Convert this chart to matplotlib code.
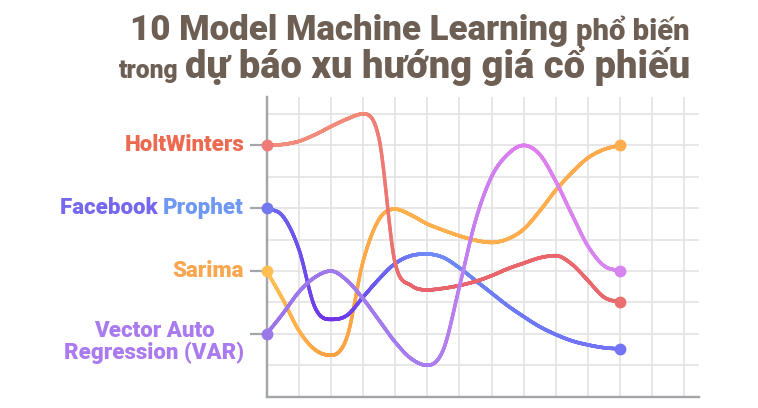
import numpy as np
import matplotlib
matplotlib.use("Agg")
import matplotlib.pyplot as plt
from matplotlib.collections import LineCollection
from matplotlib.colors import to_rgb

# ---------------- data ----------------
categories = ["Vector Auto\nRegression (VAR)", "Sarima", "Facebook Prophet", "HoltWinters"]
category_levels = [2, 4, 6, 8]

x_knots = [0, 0.5, 1, 1.5, 2, 2.5, 3, 3.5, 4, 4.5, 5, 5.5, 6, 6.5, 7, 7.5, 8, 8.5, 9, 9.5, 10, 10.5, 11]
holtwinters = [8.0, 8.03, 8.13, 8.34, 8.6, 8.84, 9.0, 8.2, 4.25, 3.54, 3.4, 3.45, 3.54, 3.67, 3.85, 4.07, 4.25, 4.42, 4.49, 4.22, 3.7, 3.17, 3.0]
prophet = [6.0, 5.75, 4.7, 2.85, 2.46, 2.59, 3.17, 3.75, 4.24, 4.49, 4.54, 4.43, 4.1, 3.7, 3.3, 2.9, 2.55, 2.23, 1.98, 1.78, 1.65, 1.56, 1.52]
sarima = [4.0, 3.1, 2.11, 1.5, 1.32, 1.9, 4.3, 5.65, 5.97, 5.78, 5.5, 5.3, 5.12, 4.98, 4.91, 5.02, 5.33, 5.91, 6.57, 7.13, 7.6, 7.87, 8.0]
var = [2.0, 2.64, 3.33, 3.8, 4.0, 3.7, 3.12, 2.43, 1.74, 1.21, 1.0, 1.5, 3.5, 5.6, 7.0, 7.71, 8.0, 7.71, 6.86, 5.81, 4.8, 4.17, 4.0]

title_line1 = ["10 Model Machine Learning", "phổ biến"]
title_line2 = ["trong", "dự báo xu hướng giá cổ phiếu"]

# ---------------- helpers ----------------
def smooth_monotone(x, y, xs):
    """Cubic Hermite with centred-difference tangents, limited (Fritsch-Carlson)."""
    x = np.asarray(x, float); y = np.asarray(y, float)
    h = np.diff(x); d = np.diff(y) / h
    n = len(x)
    m = np.zeros(n)
    m[0] = d[0]; m[-1] = d[-1]
    for i in range(1, n - 1):
        if d[i - 1] * d[i] <= 0:
            m[i] = 0.0
        else:
            m[i] = (y[i + 1] - y[i - 1]) / (x[i + 1] - x[i - 1])
    for i in range(n - 1):
        if d[i] == 0:
            m[i] = m[i + 1] = 0.0
            continue
        a = m[i] / d[i]; b = m[i + 1] / d[i]
        s = a * a + b * b
        if s > 9:
            tau = 3 / np.sqrt(s)
            m[i] = tau * a * d[i]; m[i + 1] = tau * b * d[i]
    idx = np.clip(np.searchsorted(x, xs) - 1, 0, n - 2)
    t = (xs - x[idx]) / h[idx]
    h00 = 2 * t**3 - 3 * t**2 + 1; h10 = t**3 - 2 * t**2 + t
    h01 = -2 * t**3 + 3 * t**2; h11 = t**3 - t**2
    return h00 * y[idx] + h10 * h[idx] * m[idx] + h01 * y[idx + 1] + h11 * h[idx] * m[idx + 1]

def grad_colors(xs, stops):
    sx = [s[0] for s in stops]
    cols = np.array([to_rgb(s[1]) for s in stops])
    return np.stack([np.interp(xs, sx, cols[:, k]) for k in range(3)], axis=1)

# ---------------- figure ----------------
W, H = 758, 408
fig = plt.figure(figsize=(W / 100, H / 100), dpi=100)
ax = fig.add_axes([266.7 / W, (H - 396.7) / H, (699.3 - 266.7) / W, (396.7 - 96.7) / H])
ax.set_xlim(0, 13.47)
ax.set_ylim(0, 9.55)

grid_c = "#e3e3e3"
axis_c = "#a2a5aa"
ax.set_xticks(range(0, 14))
ax.set_yticks(category_levels)
ax.set_yticks([1, 3, 5, 7, 9], minor=True)
ax.grid(True, which="both", color=grid_c, lw=1.2, zorder=0)
ax.tick_params(axis="x", length=0, labelbottom=False)
ax.tick_params(axis="y", which="major", length=12.5, width=1.6, color=axis_c, labelleft=False)
ax.tick_params(axis="y", which="minor", length=0)
for s in ["top", "right"]:
    ax.spines[s].set_visible(False)
for s in ["left", "bottom"]:
    ax.spines[s].set_color(axis_c)
    ax.spines[s].set_linewidth(1.7)
    ax.spines[s].set_zorder(1)
ax.set_axisbelow(True)

series = [
    (sarima, [(0, "#ffc152"), (2, "#ffa041"), (4, "#ffb04d"), (11, "#ffab4d")], "#ffbf50", "#ffad4d", 3),
    (prophet, [(0, "#6c70f0"), (2, "#7030e8"), (3.5, "#6a5cf0"), (5, "#6e8cf7"), (8, "#6e78f5"), (11, "#7272f5")], "#7478ef", "#7474f5", 4),
    (holtwinters, [(0, "#f28c7d"), (3, "#f28a78"), (4.5, "#e8636c"), (11, "#ea686d")], "#ef7a78", "#ea7070", 5),
    (var, [(0, "#9b74ea"), (5, "#a77ef0"), (7, "#d07ff0"), (8, "#e07ef0"), (11, "#d588f0")], "#9a78e8", "#d584f0", 6),
]
xs = np.linspace(x_knots[0], x_knots[-1], 1500)
for ys_k, stops, c0, c1, z in series:
    ys = smooth_monotone(x_knots, ys_k, xs)
    pts = np.column_stack([xs, ys]).reshape(-1, 1, 2)
    segs = np.concatenate([pts[:-1], pts[1:]], axis=1)
    cols = grad_colors((xs[:-1] + xs[1:]) / 2, stops)
    lc = LineCollection(segs, colors=cols, linewidths=2.5, capstyle="round", joinstyle="round", zorder=z)
    ax.add_collection(lc)
    ax.plot([x_knots[0]], [ys_k[0]], "o", ms=7.5, color=c0, zorder=z + 0.5, clip_on=False)
    ax.plot([x_knots[-1]], [ys_k[-1]], "o", ms=7.5, color=c1, zorder=z + 0.5, clip_on=False)

# ---------------- category labels ----------------
fig.canvas.draw()
renderer = fig.canvas.get_renderer()
FAM = ["Roboto", "DejaVu Sans"]
probe = fig.text(0, 0, "HoltWinters", fontsize=12, family=FAM, fontweight="black")
lab_size = 12 * 119 / probe.get_window_extent(renderer).width
probe.remove()
lab_font = dict(family=FAM, fontweight="black", fontsize=lab_size)
label_specs = [
    (category_levels[3], [("HoltWinters", "#ec6a50")]),
    (category_levels[2], [("Facebook ", "#7668ee"), ("Prophet", "#6f98f2")]),
    (category_levels[1], [("Sarima", "#f9a64f")]),
]
right_px = 244.0
for lvl, parts in label_specs:
    y_px = ax.transData.transform((0, lvl))[1]
    xr = right_px
    for txt, col in reversed(parts):
        t = fig.text(xr / W, y_px / H, txt, ha="right", va="center", color=col, **lab_font)
        xr -= t.get_window_extent(renderer).width
y_px = ax.transData.transform((0, category_levels[0]))[1] - 8
fig.text(right_px / W, y_px / H, categories[0], ha="right", va="center", ma="center",
         color="#a97bef", linespacing=1.0, **lab_font)

# ---------------- title ----------------
title_c = "#6e5f55"
tfont = dict(family=FAM, fontweight="black")

def fit_text(x_right, base_y, txt, target_w):
    t = fig.text(x_right / W, 1 - base_y / H, txt, ha="right", va="baseline", color=title_c, fontsize=20, **tfont)
    w = t.get_window_extent(renderer).width
    t.set_fontsize(20 * target_w / w)
    return t.get_window_extent(renderer).width

right_edge = 690
w = fit_text(right_edge, 40, title_line1[1], 114)
fit_text(right_edge - w - 8, 40, title_line1[0], 440)
w = fit_text(right_edge, 78, title_line2[1], 505)
fit_text(right_edge - w - 6, 78, title_line2[0], 60)

fig.savefig("out.png", dpi=100)
